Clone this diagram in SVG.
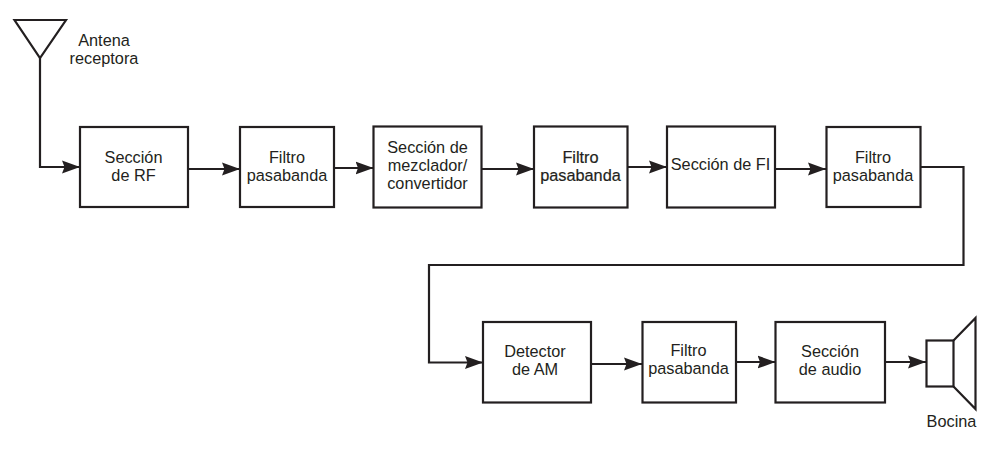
<svg xmlns="http://www.w3.org/2000/svg" width="1001" height="450" viewBox="0 0 1001 450">
<style>
.b{fill:#fff;stroke:#231f20;stroke-width:2.2}
.s{fill:none;stroke:#231f20;stroke-width:2.2;stroke-linejoin:miter}
.w{fill:none;stroke:#231f20;stroke-width:2.2;marker-end:url(#a)}
text{font-family:"Liberation Sans",Arial,sans-serif;font-size:16.300px;fill:#231f20;text-anchor:middle}
</style>
<defs>
<marker id="a" markerUnits="userSpaceOnUse" markerWidth="19" markerHeight="14" refX="18" refY="7" orient="auto">
<path d="M0 .5L18 7L0 13.500L2.500 7Z" fill="#231f20"/>
</marker>
</defs>
<rect width="1001" height="450" fill="#fff"/>
<g id="connectors">
<path class="w" d="M40 58V167H80"/>
<path class="w" d="M188 169H240"/>
<path class="w" d="M334 168H373.500"/>
<path class="w" d="M481.500 169H534"/>
<path class="w" d="M627.500 167H667"/>
<path class="w" d="M775 169H826"/>
<path class="w" d="M920 167H963.500V265H429V362.500H483"/>
<path class="w" d="M591 364H642"/>
<path class="w" d="M736 362H775.500"/>
<path class="w" d="M885 362H926"/>
</g>
<g id="antena"><path class="s" d="M14.500 20H66L40 58Z"/><text x="104" y="46">Antena</text><text x="104" y="64">receptora</text></g>
<g id="rf"><rect class="b" x="80" y="127" width="108" height="80"/><text x="133.500" y="163">Sección</text><text x="133.500" y="181">de RF</text></g>
<g id="filtro1"><rect class="b" x="240" y="127" width="94" height="80"/><text x="287" y="163">Filtro</text><text x="287" y="181">pasabanda</text></g>
<g id="mezclador"><rect class="b" x="373.500" y="126.500" width="108" height="81"/><text x="427.500" y="153">Sección de</text><text x="427.500" y="171">mezclador/</text><text x="427.500" y="189">convertidor</text></g>
<g id="filtro2"><rect class="b" x="534" y="126.500" width="93.500" height="81"/><text x="580.500" y="163" stroke="#231f20" stroke-width=".2">Filtro</text><text x="580.500" y="181" stroke="#231f20" stroke-width=".2">pasabanda</text></g>
<g id="fi"><rect class="b" x="667" y="126.500" width="108" height="81"/><text x="720.500" y="170">Sección de FI</text></g>
<g id="filtro3"><rect class="b" x="826.500" y="127" width="94" height="80"/><text x="873" y="163">Filtro</text><text x="873" y="181">pasabanda</text></g>
<g id="detector"><rect class="b" x="483" y="322" width="108" height="80.500"/><text x="535" y="357">Detector</text><text x="535" y="375">de AM</text></g>
<g id="filtro4"><rect class="b" x="642.500" y="322" width="93.500" height="80.500"/><text x="688.500" y="356">Filtro</text><text x="688.500" y="374">pasabanda</text></g>
<g id="audio"><rect class="b" x="775.500" y="322" width="109.500" height="80.500"/><text x="830" y="357">Sección</text><text x="830" y="375">de audio</text></g>
<g id="bocina"><rect class="b" x="926.500" y="340.500" width="27" height="46"/><path class="s" d="M953.500 340.500L975.500 318V409L953.500 386.500"/><text x="951.500" y="427">Bocina</text></g>
</svg>
